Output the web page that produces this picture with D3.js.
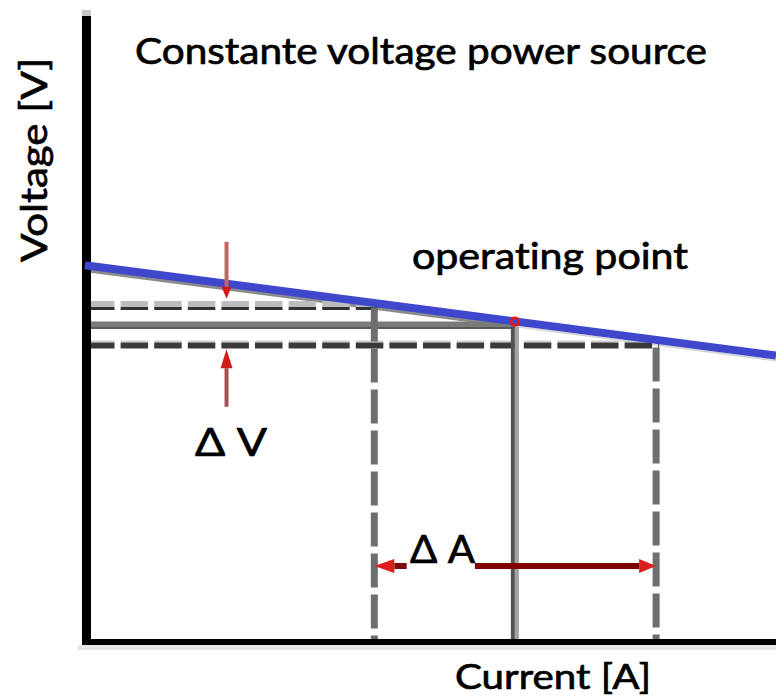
<!DOCTYPE html>
<html>
<head>
<meta charset="utf-8">
<script src="https://cdn.jsdelivr.net/npm/d3@7"></script>
<style>
  html, body { margin: 0; padding: 0; background: #fff; }
  svg { display: block; }
  text { font-variant-ligatures: none; }
</style>
</head>
<body>
<script>
// Current and voltage ranges of the diagram (arbitrary units)
const currentDomain = [0, 100];
const voltageDomain = [0, 100];

// Characteristic of the constant-voltage source (current → voltage)
const sourceCurrent = [-0.3, 100];
const sourceVoltage = [62.8, 47.75];

// Operating point on the characteristic
const operatingCurrent = 62.1;
const operatingVoltage = 53.4;

// Horizontal reference levels: voltage, current where each stops, dashed or not
const levelVoltage = [56.1, 52.85, 49.4];
const levelCurrent = [41.7, 62.1, 82.6];
const levelDashed = [true, false, true];

// Vertical reference lines: current, voltage where each starts, dashed or not
const dropCurrent = [41.7, 62.1, 82.6];
const dropVoltage = [56.1, 52.6, 49.4];
const dropDashed = [true, false, true];

// ΔV arrows at one current: tail and tip voltages
const deltaVCurrent = 20.25;
const deltaVTail = [66.7, 39.2];
const deltaVTip = [57.2, 48.8];

// ΔA arrows at one voltage: tail and tip currents
const deltaAVoltage = 12.67;
const deltaATail = [46.4, 56.3];
const deltaATip = [41.7, 82.6];

// Text
const titleText = "Constante voltage power source";
const xLabelText = "Current [A]";
const yLabelText = "Voltage [V]";
const opLabelText = "operating point";
const dvLabelText = "\u0394 V";
const daLabelText = "\u0394 A";

const W = 776, H = 698;
const FONT = "Lato, 'Open Sans', 'DejaVu Sans', sans-serif";

const x = d3.scaleLinear().domain(currentDomain).range([87, 776]);
const y = d3.scaleLinear().domain(voltageDomain).range([642, 42]);

const svg = d3.select("body").append("svg")
  .attr("width", W).attr("height", H)
  .attr("viewBox", `0 0 ${W} ${H}`);

svg.append("rect").attr("width", W).attr("height", H).attr("fill", "#fff");

const line = d3.line().x(d => d[0]).y(d => d[1]);
const sourcePts = sourceCurrent.map((c, i) => [x(c), y(sourceVoltage[i])]);
const voltAt = c => sourceVoltage[0] + (sourceVoltage[1] - sourceVoltage[0]) *
  (c - sourceCurrent[0]) / (sourceCurrent[1] - sourceCurrent[0]);

// soft shadow under the source characteristic
const shadow = svg.append("g");
shadow.append("path")
  .attr("d", line([[x(0.5), y(voltAt(0.5)) + 5], [x(operatingCurrent), y(voltAt(operatingCurrent)) + 5]]))
  .attr("stroke", "#666").attr("stroke-width", 3.5).attr("stroke-opacity", 0.75).attr("fill", "none");
shadow.append("path")
  .attr("d", line([[x(operatingCurrent), y(voltAt(operatingCurrent)) + 5], [x(100), y(voltAt(100)) + 5]]))
  .attr("stroke", "#bbb").attr("stroke-width", 2).attr("stroke-opacity", 0.6).attr("fill", "none");

// horizontal reference levels
const levels = svg.append("g");
levelVoltage.forEach((v, i) => {
  const yy = y(v);
  const x0 = x(0), x1 = x(levelCurrent[i]) + (levelDashed[i] ? 3 : 0);
  if (levelDashed[i]) {
    const dash = "27.5 6.1";
    if (i === 0) {
      levels.append("line").attr("x1", x0).attr("x2", x1).attr("y1", yy - 1.5).attr("y2", yy - 1.5)
        .attr("stroke", "#bdbdbd").attr("stroke-width", 6).attr("stroke-dasharray", dash);
      levels.append("line").attr("x1", x0).attr("x2", x1).attr("y1", yy + 3).attr("y2", yy + 3)
        .attr("stroke", "#333").attr("stroke-width", 3).attr("stroke-dasharray", dash);
    } else {
      levels.append("line").attr("x1", x0).attr("x2", x1).attr("y1", yy - 4).attr("y2", yy - 4)
        .attr("stroke", "#cfcfcf").attr("stroke-width", 2).attr("stroke-dasharray", dash);
      levels.append("line").attr("x1", x0).attr("x2", x1).attr("y1", yy).attr("y2", yy)
        .attr("stroke", "#3a3a3a").attr("stroke-width", 6).attr("stroke-dasharray", dash);
    }
  } else {
    levels.append("line").attr("x1", x0).attr("x2", x1).attr("y1", yy).attr("y2", yy)
      .attr("stroke", "#7a7a7a").attr("stroke-width", 7);
    levels.append("line").attr("x1", x0).attr("x2", x1).attr("y1", yy + 3).attr("y2", yy + 3)
      .attr("stroke", "#5a5a5a").attr("stroke-width", 2);
  }
});

// vertical reference lines
const drops = svg.append("g");
dropCurrent.forEach((c, i) => {
  const xx = x(c);
  const y0 = y(dropVoltage[i]), y1 = y(0) - 2;
  if (dropDashed[i]) {
    drops.append("line").attr("x1", xx).attr("x2", xx).attr("y1", y0).attr("y2", y1)
      .attr("stroke", "#6e6e6e").attr("stroke-width", 7)
      .attr("stroke-dasharray", "34 7").attr("stroke-dashoffset", -2);
  } else {
    drops.append("line").attr("x1", xx - 2).attr("x2", xx - 2).attr("y1", y0).attr("y2", y1)
      .attr("stroke", "#525252").attr("stroke-width", 4);
    drops.append("line").attr("x1", xx + 2).attr("x2", xx + 2).attr("y1", y0).attr("y2", y1)
      .attr("stroke", "#a2a2a2").attr("stroke-width", 4);
  }
});

// axes (plain lines without ticks)
const axes = svg.append("g");
axes.append("rect").attr("x", 78).attr("y", y(0) + 3).attr("width", W - 78).attr("height", 5).attr("fill", "#e6e6e6");
axes.append("line").attr("x1", x(0) - 0.5).attr("x2", x(0) - 0.5).attr("y1", 10).attr("y2", 16)
  .attr("stroke", "#c8c8c8").attr("stroke-width", 9);
axes.append("line").attr("x1", x(0) - 0.5).attr("x2", x(0) - 0.5).attr("y1", 16).attr("y2", y(0) + 3)
  .attr("stroke", "#000").attr("stroke-width", 9);
axes.append("line").attr("x1", x(0) - 5).attr("x2", W).attr("y1", y(0)).attr("y2", y(0))
  .attr("stroke", "#000").attr("stroke-width", 6);

// source characteristic
svg.append("path").attr("d", line(sourcePts))
  .attr("fill", "none").attr("stroke", "#3f48cc").attr("stroke-width", 8);

// operating point marker
svg.append("circle")
  .attr("cx", x(operatingCurrent)).attr("cy", y(operatingVoltage)).attr("r", 3.8)
  .attr("fill", "none").attr("stroke", "#e81818").attr("stroke-width", 2.6);

// arrows
function arrow(g, tail, tip, opts) {
  const dx = tip[0] - tail[0], dy = tip[1] - tail[1];
  const len = Math.hypot(dx, dy), ux = dx / len, uy = dy / len;
  const bx = tip[0] - ux * opts.head, by = tip[1] - uy * opts.head;
  g.append("line").attr("x1", tail[0]).attr("y1", tail[1]).attr("x2", bx).attr("y2", by)
    .attr("stroke", opts.lineColor).attr("stroke-width", opts.width);
  const px = -uy * opts.half, py = ux * opts.half;
  g.append("path")
    .attr("d", `M${tip[0]},${tip[1]}L${bx + px},${by + py}L${bx - px},${by - py}Z`)
    .attr("fill", opts.headColor);
}
const arrows = svg.append("g");
arrow(arrows, [x(deltaVCurrent), y(deltaVTail[0])], [x(deltaVCurrent), y(deltaVTip[0])],
  { lineColor: "#c86262", headColor: "#d21a1a", width: 4, head: 12, half: 5 });
arrow(arrows, [x(deltaVCurrent), y(deltaVTail[1])], [x(deltaVCurrent), y(deltaVTip[1])],
  { lineColor: "#a85050", headColor: "#d21a1a", width: 4, head: 19, half: 6 });
arrow(arrows, [x(deltaATail[0]), y(deltaAVoltage)], [x(deltaATip[0]), y(deltaAVoltage)],
  { lineColor: "#7c0a0a", headColor: "#dc1e1e", width: 6, head: 20, half: 7 });
arrow(arrows, [x(deltaATail[1]), y(deltaAVoltage)], [x(deltaATip[1]), y(deltaAVoltage)],
  { lineColor: "#800000", headColor: "#dc1e1e", width: 6, head: 17, half: 7 });

// labels (a thin outline gives the heavier look of the drawn lettering)
const text = svg.append("g").attr("font-family", FONT).attr("fill", "#000")
  .attr("stroke", "#000").attr("stroke-width", 0.7);
function label(str, px, py, size, len, rotate) {
  const t = text.append("text").text(str)
    .attr("font-size", size).attr("textLength", len).attr("lengthAdjust", "spacingAndGlyphs");
  if (rotate) {
    t.attr("text-anchor", "middle").attr("transform", `translate(${px},${py}) rotate(-90)`);
  } else {
    t.attr("x", px).attr("y", py);
  }
  return t;
}
label(titleText, 135, 64, 36, 572);
label(opLabelText, 412, 269, 36, 276);
label(dvLabelText, 195, 456, 38, 72);
label(daLabelText, 410, 563, 38, 65);
label(xLabelText, 455, 689, 35, 196);
label(yLabelText, 47, 160, 37, 204, true);
</script>
</body>
</html>
